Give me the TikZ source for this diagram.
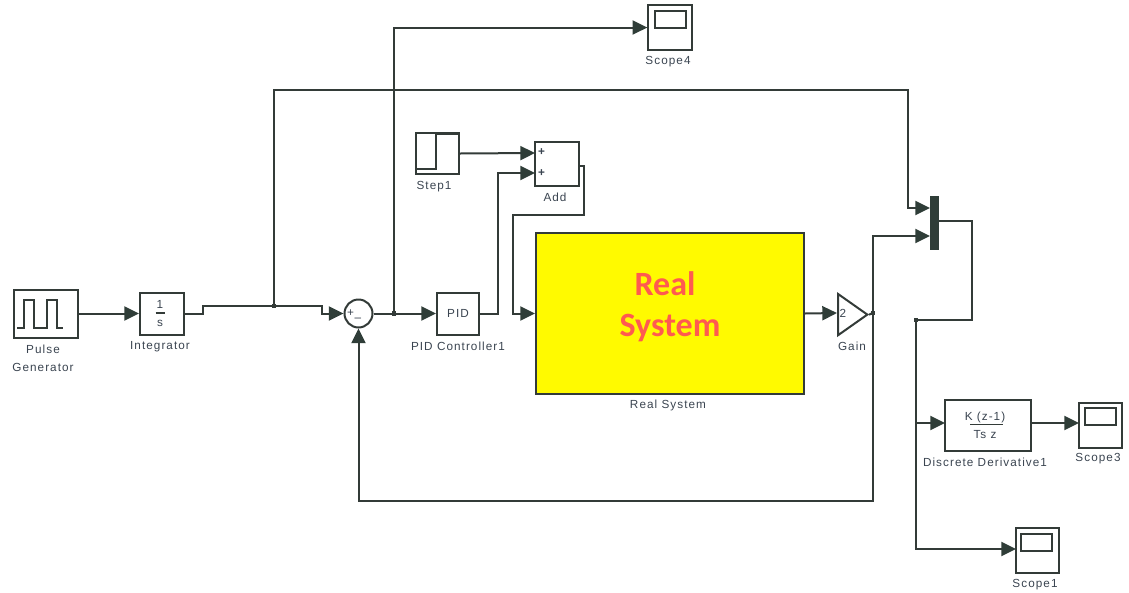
\documentclass[tikz,border=0pt]{standalone}
\usepackage{fontspec}
\setmainfont[LetterSpace=9]{Liberation Sans}
\newfontfamily\bigfont{Carlito}
\usetikzlibrary{arrows.meta,shapes.geometric}
\definecolor{wire}{HTML}{333B38}
\definecolor{tipc}{HTML}{2F3D38}
\definecolor{labelc}{HTML}{3A4450}
\definecolor{redtext}{HTML}{FF5A50}
\definecolor{sysy}{HTML}{FFFA00}
\tikzset{
  px/.style={x=0.75pt,y=-0.75pt},
  blockbox/.style={draw=wire,line width=1.5pt,inner sep=0pt,fill=white,font=\fontsize{8.8}{10}\selectfont,text=labelc},
  wirepath/.style={draw=wire,line width=1.5pt,line join=miter},
  sig/.style={wirepath,-{Triangle[length=11pt,width=10.5pt,color=tipc]}},
  lbl/.style={font=\fontsize{8.8}{10}\selectfont,text=labelc,inner sep=0pt},
  iconline/.style={draw=wire,line width=1.4pt},
  junc/.style={fill=wire,inner sep=0pt,minimum size=3.4pt,rectangle},
  scopebox/.style={blockbox,minimum width=32.5pt,minimum height=33.5pt},
}
\begin{document}
\begin{tikzpicture}[px]
\useasboundingbox (0,0) rectangle (1129,593);
% blocks
\node[blockbox,minimum width=48pt,minimum height=36pt] (pulse) at (45.5,313.5) {};
\node[blockbox,minimum width=33pt,minimum height=31.5pt] (integ) at (162,313.5) {};
\node[blockbox,circle,minimum size=21pt] (sum) at (358.5,313.5) {};
\node[blockbox,minimum width=31.5pt,minimum height=31.5pt] (pid) at (458,313.5) {PID};
\node[blockbox,minimum width=32.5pt,minimum height=31pt] (step) at (437.5,153.5) {};
\node[blockbox,minimum width=33pt,minimum height=33pt] (add) at (557,164) {};
\node[draw=wire,line width=1.5pt,fill=sysy,inner sep=0pt,minimum width=201pt,minimum height=121pt] (sys) at (670,313.5) {};
\node[blockbox,isosceles triangle,isosceles triangle apex angle=70,isosceles triangle stretches,minimum width=31pt,minimum height=22pt,anchor=left corner,shape border uses incircle=false] (gain) at (837,292) {};
\node[draw=none,fill=tipc,inner sep=0pt,minimum width=6.5pt,minimum height=40.5pt] (mux) at (934.5,223) {};
\node[blockbox,minimum width=64.5pt,minimum height=38pt] (deriv) at (988,425.5) {};
\node[scopebox] (sc4) at (670,27.5) {};
\node[scopebox] (sc3) at (1100.5,425.5) {};
\node[scopebox] (sc1) at (1037.5,550.5) {};
% block contents
\draw[iconline] (17,328) -- (24,328) -- (24,300) -- (34,300) -- (34,328) -- (47,328) -- (47,300) -- (57,300) -- (57,328) -- (63,328);
\draw[iconline] (415,169) -- (436,169) -- (436,134) -- (459,134);
\node[lbl] (intnum) at (160,304) {1};
\draw[draw=wire,line width=.8pt] (155.5,313) -- (165,313);
\node[lbl] (intden) at (160,323) {s};
\node[lbl] (plus) at (350.5,313) {+};
\node[lbl] (minus) at (358,320) {–};
\node[lbl] (addp1) at (542,152.5) {\textbf{+}};
\node[lbl] (addp2) at (542,173) {\textbf{+}};
\node[lbl] (gaintwo) at (843,313) {2};
\node[lbl] (derivnum) at (985,417) {K (z-1)};
\draw[draw=wire,line width=.9pt] (970,424.5) -- (1003,424.5);
\node[lbl] (derivden) at (985,435) {Ts z};
\foreach \x/\y in {655/11,1085/408,1021/534}{
  \draw[iconline] (\x,\y) rectangle ++(31,17);
}
\node[font=\bigfont\bfseries\fontsize{25.5}{28}\selectfont,text=redtext,inner sep=0pt] (realA) at (665,284) {Real};
\node[font=\bigfont\bfseries\fontsize{25.5}{28}\selectfont,text=redtext,inner sep=0pt] (realB) at (670,328) {System};
% labels
\node[lbl] (lpulse) at (43,349) {Pulse};
\node[lbl] (lgen) at (43,367) {Generator};
\node[lbl] (lint) at (160,347) {Integrator};
\node[lbl] (lpid) at (458,346) {PID Controller1};
\node[lbl] (lstep) at (434,187) {Step1};
\node[lbl] (ladd) at (555,197) {Add};
\node[lbl] (lsys) at (668,405.5) {Real System};
\node[lbl] (lgain) at (852,346) {Gain};
\node[lbl] (lderiv) at (985,462) {Discrete Derivative1};
\node[lbl] (lsc3) at (1098,459) {Scope3};
\node[lbl] (lsc4) at (668,62) {Scope4};
\node[lbl] (lsc1) at (1035,585) {Scope1};
% connection points
\coordinate (j1) at (274,306);
\coordinate (j2) at (394,313.5);
\coordinate (j3) at (873,313);
\coordinate (j4) at (916,320);
\coordinate (j5) at (916,423);
\coordinate (addin1) at (535,153);
\coordinate (addin2) at (535,173);
\coordinate (addout) at (579,166);
\coordinate (muxin1) at (930,208);
\coordinate (muxin2) at (930,236);
\coordinate (muxout) at (939,221);
\coordinate (derivin) at (945,423);
\coordinate (derivout) at (1031,423);
\coordinate (sc3in) at (1079,423);
\coordinate (sc1in) at (1016,549);
\coordinate (gainin) at (837,313);
\coordinate (fbc) at (358.5,501);
% connectors
\path[sig] (pulse.east) -- (integ.west);
\path[sig] (integ.east) -- (203,313.5) -- (203,306) -- (j1) -- (322,306) -- (322,313.5) -- (sum.west);
\path[sig] (sum.east) -- (j2) -- (pid.west);
\path[sig] (j2) |- (sc4.west);
\path[sig] (j1) -- (274,90) -- (908,90) -- (908,208) -- (muxin1);
\path[sig] (step.east) -- (addin1);
\path[sig] (pid.east) -- (498,313.5) -- (498,173) -- (addin2);
\path[sig] (addout) -- (584,166) -- (584,215) -- (513,215) -- (513,313.5) -- (sys.west);
\path[sig] (sys.east) -- (gainin);
\path[wirepath] (gain.apex) -- (j3);
\path[sig] (j3) |- (muxin2);
\path[sig] (j3) |- (fbc) -- (sum.south);
\path[wirepath] (muxout) -- (972,221) -- (972,320) -- (j4);
\path[sig] (j4) -- (j5) -- (derivin);
\path[sig] (j5) |- (sc1in);
\path[sig] (derivout) -- (sc3in);
\node[junc] (dot1) at (j1) {};
\node[junc] (dot2) at (j2) {};
\node[junc] (dot3) at (j3) {};
\node[junc] (dot4) at (j4) {};
\end{tikzpicture}
\end{document}
